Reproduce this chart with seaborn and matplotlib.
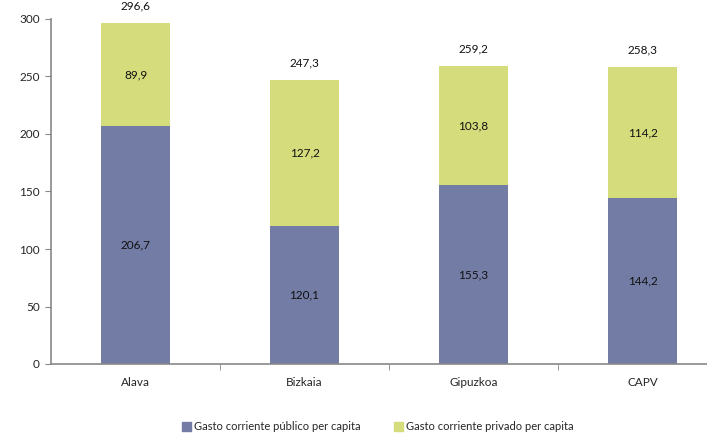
import matplotlib
matplotlib.use("Agg")
import matplotlib.pyplot as plt
import seaborn as sns
import pandas as pd
from matplotlib.patches import Patch
from matplotlib.ticker import FixedLocator

categories = ["Alava", "Bizkaia", "Gipuzkoa", "CAPV"]
publico = [206.7, 120.1, 155.3, 144.2]
privado = [89.9, 127.2, 103.8, 114.2]
totales = [296.6, 247.3, 259.2, 258.3]
series_names = ["Gasto corriente público per capita", "Gasto corriente privado per capita"]

sns.set_style("white")
plt.rcParams["font.family"] = ["Lato", "DejaVu Sans"]

c_pub = "#727ca4"
c_priv = "#d4dc7c"

df = pd.DataFrame({"cat": categories, "pub": publico, "priv": privado, "tot": totales})

fig = plt.figure(figsize=(7.07, 4.37), dpi=100)
ax = fig.add_axes([51/707, 73/437, 676/707, 345/437])

sns.barplot(data=df, x="cat", y="tot", color=c_priv, width=0.41, saturation=1, ax=ax,
            order=categories, linewidth=0)
sns.barplot(data=df, x="cat", y="pub", color=c_pub, width=0.41, saturation=1, ax=ax,
            order=categories, linewidth=0)

def fmt(x):
    return f"{x:.1f}".replace(".", ",")

for i, (p, v, t) in enumerate(zip(publico, privado, totales)):
    ax.text(i, p / 2, fmt(p), ha="center", va="center", fontsize=8.5, color="#111111")
    ax.text(i, p + v / 2, fmt(v), ha="center", va="center", fontsize=8.5, color="#111111")
    ax.annotate(fmt(t), (i, t), xytext=(0, 8), textcoords="offset points",
                ha="center", va="bottom", fontsize=8.5, color="#111111")

ax.set_ylim(0, 300)
ax.set_xlim(-0.5, 3.5)
ax.set_yticks(range(0, 301, 50))
ax.set_xlabel("")
ax.set_ylabel("")
for s in ["top", "right"]:
    ax.spines[s].set_visible(False)
for s in ["left", "bottom"]:
    ax.spines[s].set_color("#888888")
    ax.spines[s].set_linewidth(1.2)
ax.tick_params(axis="y", length=4, color="#888888", labelsize=8.5, pad=4, left=True)
ax.tick_params(axis="x", which="major", length=0, labelsize=8.5, pad=9)
ax.xaxis.set_minor_locator(FixedLocator([0.5, 1.5, 2.5]))
ax.tick_params(axis="x", which="minor", length=4, color="#888888", bottom=True)

handles = [Patch(color=c_pub), Patch(color=c_priv)]
fig.legend(handles, series_names, loc="center", bbox_to_anchor=(378/707, 1 - 427/437),
           ncol=2, frameon=False, fontsize=8, handlelength=0.8, handleheight=0.8,
           handletextpad=0.3, columnspacing=3.0)

fig.savefig("out.png", dpi=100)
